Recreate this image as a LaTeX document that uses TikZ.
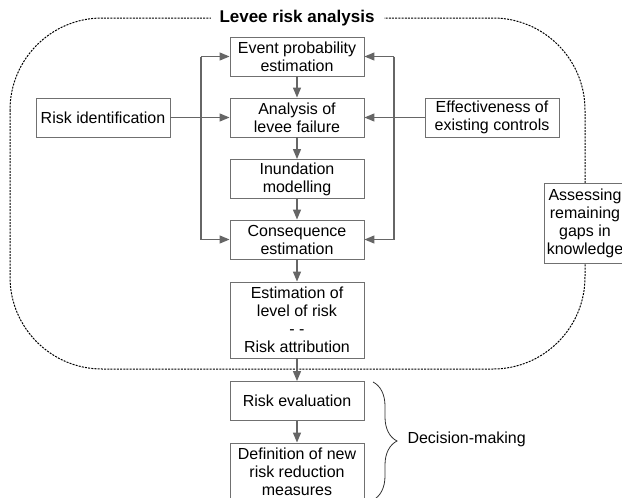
\documentclass[tikz,border=0pt]{standalone}
\usepackage{fontspec}
\setmainfont{Liberation Sans}
\usetikzlibrary{arrows.meta, positioning, decorations.pathreplacing, calc}
\definecolor{boxgray}{HTML}{707070}
\definecolor{arrowgray}{HTML}{666666}

\begin{document}
\begin{tikzpicture}[x=1pt,y=-1pt,->,>={Triangle[length=10pt,width=8pt]},
                    every edge/.style={draw=arrowgray,line width=1.3pt},
                    main box/.style={rectangle,draw=boxgray,line width=0.9pt,fill=white,minimum width=134pt,
                                     minimum height=39pt,align=center,inner sep=1pt,font=\fontsize{16}{18}\selectfont},
                    frame line/.style={-,draw=black,line width=1pt,dash pattern=on 2pt off 1.2pt}]
        \useasboundingbox (0,0) rectangle (622,498);

        % dashed frame of the analysis
        \draw[frame line,rounded corners=92pt] (10,18) rectangle (585,369);
        \node[fill=white,inner xsep=9pt,inner ysep=2pt,font=\fontsize{17}{18}\selectfont\bfseries] (title) at (297,18) {Levee risk analysis};

        \node[main box] (ev) at (297,56.5) {Event probability\\estimation};
        \node[main box] (ana) at (297,117.5) {Analysis of\\levee failure};
        \node[main box] (inu) at (297,179) {Inundation\\modelling};
        \node[main box] (cons) at (297,239.5) {Consequence\\estimation};
        \node[main box,minimum height=76pt] (est) at (297,320) {Estimation of\\level of risk\\- -\\Risk attribution};
        \node[main box] (eval) at (297,401) {Risk evaluation};
        \node[main box,minimum height=58pt] (def) at (297,472) {Definition of new\\risk reduction\\measures};

        \node[main box] (ri) at (103,117.5) {Risk identification};
        \node[main box] (eff) at (492,117.5) {Effectiveness of\\existing controls};
        \node[main box,minimum width=82pt,minimum height=80pt] (gaps) at (585,223) {Assessing\\remaining\\gaps in\\knowledge};

        \coordinate (lbus) at (201,0);
        \coordinate (rbus) at (394,0);
        \draw[-,draw=arrowgray,line width=1.3pt] (lbus |- ev) -- (lbus |- cons);
        \draw[-,draw=arrowgray,line width=1.3pt] (rbus |- ev) -- (rbus |- cons);

        \path
        (ev) edge (ana)
        (ana) edge (inu)
        (inu) edge (cons)
        (cons) edge (est)
        (est) edge (eval)
        (eval) edge (def)
        (ri) edge (ana)
        (eff) edge (ana)
        (lbus |- ev) edge (ev)
        (lbus |- cons) edge (cons)
        (rbus |- ev) edge (ev)
        (rbus |- cons) edge (cons);

        % decision-making brace
        \coordinate (btop) at (373,382);
        \coordinate (bbot) at (373,500);
        \draw[-,draw=black!80,line width=0.8pt,decorate,decoration={brace,amplitude=24pt}] (btop) -- (bbot);
        \node[anchor=west,font=\fontsize{16}{18}\selectfont] (dm) at (404,439) {Decision-making};
\end{tikzpicture}
\end{document}
